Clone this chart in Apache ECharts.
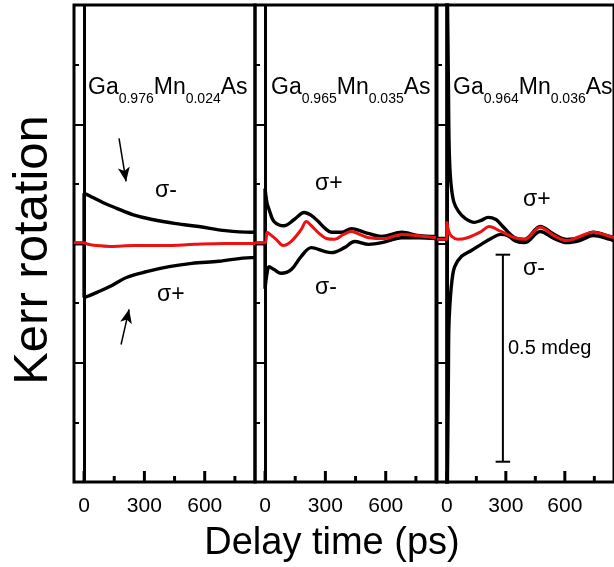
<!DOCTYPE html>
<html><head><meta charset="utf-8">
<script src="https://cdn.jsdelivr.net/npm/echarts@6/dist/echarts.min.js"></script>
<style>html,body{margin:0;padding:0;background:#fff}#c{width:614px;height:567px}</style>
</head><body><div id="c"></div>
<script>
// ---------- data (time in ps, Kerr rotation in mdeg) ----------
const xTickLabels = [0, 300, 600];
const xMinorTicks = [150, 450, 750];
const sampleFractions = [['0.976', '0.024'], ['0.965', '0.035'], ['0.964', '0.036']];

// Panel 1: Ga0.976Mn0.024As
const p1UpperT = [-50, 0, 0, 15, 44, 93, 162, 241, 339, 457, 571, 703, 831, 850];           // σ-
const p1UpperV = [0, 0, 0.121, 0.118, 0.111, 0.099, 0.085, 0.070, 0.058, 0.048, 0.041, 0.031, 0.027, 0.027];
const p1LowerT = [-50, 0, 0, 15, 64, 128, 211, 310, 423, 536, 669, 831, 850];               // σ+
const p1LowerV = [0, 0, -0.130, -0.128, -0.118, -0.104, -0.082, -0.068, -0.056, -0.048, -0.043, -0.034, -0.034];
const p1RedT = [-50, 0, 20, 60, 130, 250, 400, 550, 700, 850];
const p1RedV = [0.002, 0.002, -0.002, -0.005, -0.007, -0.005, -0.005, -0.002, 0, 0];

// Panel 2: Ga0.965Mn0.035As
const p2UpperT = [-50, 0, 0, 10, 20, 45, 95, 145, 195, 230, 265, 300, 330, 380, 430, 495, 580, 680, 765, 850];  // σ+
const p2UpperV = [0, 0, 0.133, 0.097, 0.082, 0.053, 0.043, 0.058, 0.075, 0.068, 0.053, 0.036, 0.027, 0.027, 0.036, 0.027, 0.017, 0.027, 0.019, 0.017];
const p2LowerT = [-50, 0, 0, 10, 20, 45, 80, 130, 180, 230, 295, 330, 395, 445, 515, 580, 680, 765, 850];       // σ-
const p2LowerV = [0, 0, -0.109, -0.072, -0.056, -0.063, -0.072, -0.063, -0.031, -0.010, -0.019, -0.022, -0.010, 0.005, -0.002, 0.002, 0.014, 0.014, 0.012];
const p2RedT = [-50, 0, 10, 25, 55, 90, 130, 180, 205, 230, 270, 305, 345, 390, 430, 470, 515, 595, 680, 795, 850];
const p2RedV = [0.002, 0.002, 0.027, 0.022, 0.010, -0.005, 0.005, 0.034, 0.053, 0.043, 0.024, 0.012, 0.010, 0.022, 0.029, 0.022, 0.014, 0.012, 0.022, 0.017, 0.014];

// Panel 3: Ga0.964Mn0.036As
const p3UpperT = [-50, 0, 0, 8, 12, 20, 35, 60, 95, 140, 175, 210, 250, 275, 345, 395, 475, 545, 610, 675, 745, 830, 850]; // σ+
const p3UpperV = [0.012, 0.012, 0.725, 0.386, 0.229, 0.150, 0.101, 0.077, 0.060, 0.051, 0.056, 0.063, 0.058, 0.046, 0.014, 0.010, 0.041, 0.022, 0.010, 0.014, 0.027, 0.017, 0.014];
const p3LowerT = [-50, 0, 0, 8, 10, 15, 25, 40, 75, 125, 175, 225, 275, 310, 345, 395, 475, 545, 610, 675, 745, 830, 850]; // σ-
const p3LowerV = [0.010, 0.010, -0.725, -0.314, -0.208, -0.152, -0.094, -0.056, -0.031, -0.017, -0.002, 0.012, 0.022, 0.019, 0.007, 0.002, 0.029, 0.012, 0.002, 0.007, 0.019, 0.010, 0.007];
const p3RedT = [-50, 0, 0, 10, 25, 55, 105, 175, 215, 275, 345, 395, 475, 545, 610, 675, 745, 830, 850];
const p3RedV = [0.010, 0.010, 0.053, 0.029, 0.017, 0.010, 0.014, 0.029, 0.041, 0.029, 0.014, 0.010, 0.039, 0.019, 0.007, 0.017, 0.027, 0.017, 0.014];

// scale bar in panel 3: [time, top, bottom, half cap width]
const scaleBar = [[285, -0.027, -0.527, 37]];
// arrows in panel 1: [tStart, vStart, tEnd, vEnd]
const arrows = [[174, 0.254, 209, 0.150], [184, -0.244, 224, -0.159]];

// ---------- chart ----------
const zip = (t, v) => t.map((x, i) => [x, v[i]]);
const FONT = 'Liberation Sans, Arial, sans-serif';
const Y_MIN = -0.576, Y_MAX = 0.576;
const chart = echarts.init(document.getElementById('c'), null, {renderer: 'canvas'});

const gridLefts = [74, 255, 437];
const grids = gridLefts.map(l => ({left: l, top: 5, width: 181, height: 477, show: true,
  borderColor: '#000', borderWidth: 3, backgroundColor: 'transparent', containLabel: false}));

const xAxes = [], yAxes = [];
gridLefts.forEach((l, i) => {
  xAxes.push({type: 'value', gridIndex: i, min: -50, max: 850, position: 'bottom',
    axisLine: {show: false, onZero: false}, splitLine: {show: false}, axisTick: {show: false},
    axisLabel: {show: true, customValues: xTickLabels, fontFamily: FONT, fontSize: 21, color: '#000',
      margin: 24, verticalAlign: 'middle'}});
  yAxes.push({type: 'value', gridIndex: i, min: Y_MIN, max: Y_MAX, interval: 0.288, position: 'left',
    axisLine: {show: false, onZero: false}, splitLine: {show: false}, axisLabel: {show: false},
    axisTick: {show: true, inside: true, length: 10, lineStyle: {color: '#000', width: 2}},
    minorTick: {show: true, splitNumber: 2, length: 5, lineStyle: {color: '#000', width: 2}},
    minorSplitLine: {show: false}});
});

const blackLine = (name, i, data, extra) => Object.assign({
  name, type: 'line', xAxisIndex: i, yAxisIndex: i, data, showSymbol: false, symbol: 'none',
  smooth: 0.35, lineStyle: {color: '#000', width: 3.4}, clip: true, silent: true, z: 3
}, extra || {});
const redLine = (i, data) => ({
  name: 'linear', type: 'line', xAxisIndex: i, yAxisIndex: i, data, showSymbol: false, symbol: 'none',
  smooth: 0.35, lineStyle: {color: '#ee1111', width: 3}, clip: true, silent: true, z: 5
});
const zeroLine = {silent: true, symbol: 'none', label: {show: false},
  lineStyle: {color: '#000', width: 3, type: 'solid'}, data: [{xAxis: 0}], animation: false};

// x-axis tick marks (major at labelled values, minor in between), placed through the axis scale
const tickSeries = i => ({type: 'custom', name: 'xticks', xAxisIndex: i, yAxisIndex: i, silent: true, clip: false, z: 20,
  encode: {x: 0, y: 1},
  data: [...xTickLabels, ...xMinorTicks].map(v => [v, Y_MIN]),
  renderItem: (params, api) => {
    const v = api.value(0);
    const p = api.coord([v, api.value(1)]);
    const len = xTickLabels.indexOf(v) >= 0 ? 11 : 6;
    return {type: 'rect', shape: {x: p[0] - 1.5, y: p[1] - len, width: 3, height: len}, style: {fill: '#000'}};
  }});

const series = [
  blackLine('σ-', 0, zip(p1UpperT, p1UpperV), {markLine: {silent: true, symbol: ['none', 'arrow'], symbolSize: [9, 14],
    label: {show: false}, lineStyle: {color: '#000', width: 1.5, type: 'solid'}, animation: false,
    data: arrows.map(a => [{coord: [a[0], a[1]]}, {coord: [a[2], a[3]]}])}}),
  blackLine('σ+', 0, zip(p1LowerT, p1LowerV), {markLine: zeroLine}),
  redLine(0, zip(p1RedT, p1RedV)),
  blackLine('σ+', 1, zip(p2UpperT, p2UpperV)),
  blackLine('σ-', 1, zip(p2LowerT, p2LowerV), {markLine: zeroLine}),
  redLine(1, zip(p2RedT, p2RedV)),
  blackLine('σ+', 2, zip(p3UpperT, p3UpperV)),
  blackLine('σ-', 2, zip(p3LowerT, p3LowerV), {markLine: zeroLine}),
  redLine(2, zip(p3RedT, p3RedV)),
  tickSeries(0), tickSeries(1), tickSeries(2),
  {type: 'custom', name: 'scale', xAxisIndex: 2, yAxisIndex: 2, data: scaleBar, silent: true, clip: false, z: 4,
    renderItem: (params, api) => {
      const x = api.value(0), y1 = api.value(1), y2 = api.value(2), hw = api.value(3);
      const t = api.coord([x, y1]), b = api.coord([x, y2]);
      const tl = api.coord([x - hw, y1]), tr = api.coord([x + hw, y1]);
      const bl = api.coord([x - hw, y2]), br = api.coord([x + hw, y2]);
      const st = {stroke: '#000', lineWidth: 2};
      return {type: 'group', children: [
        {type: 'line', shape: {x1: t[0], y1: t[1], x2: b[0], y2: b[1]}, style: st},
        {type: 'line', shape: {x1: tl[0], y1: tl[1], x2: tr[0], y2: tr[1]}, style: st},
        {type: 'line', shape: {x1: bl[0], y1: bl[1], x2: br[0], y2: br[1]}, style: st}
      ]};
    }}
];

const titleRich = {
  m: {fontFamily: FONT, fontSize: 23, lineHeight: 30, verticalAlign: 'top', fill: '#000', color: '#000'},
  s: {fontFamily: FONT, fontSize: 14, lineHeight: 14, padding: [16, 0, 0, 0], verticalAlign: 'top', fill: '#000', color: '#000'}
};
const titleX = [88, 271, 453];
const txt = (text, x, y, size, extra) => ({type: 'text', x, y, silent: true, z: 10,
  style: Object.assign({text, fontFamily: FONT, fontSize: size, fill: '#000', align: 'left', verticalAlign: 'middle'}, extra || {})});

const graphic = [
  {type: 'text', x: 33, y: 250, rotation: Math.PI / 2, silent: true,
    style: {text: 'Kerr rotation', fontFamily: FONT, fontSize: 49, fill: '#000', align: 'center', verticalAlign: 'middle'}},
  txt('Delay time (ps)', 332, 544, 38, {align: 'center'}),
  ...sampleFractions.map((f, i) => ({type: 'text', x: titleX[i], y: 76, silent: true, z: 10,
    style: {text: `{m|Ga}{s|${f[0]}}{m|Mn}{s|${f[1]}}{m|As}`, rich: titleRich, align: 'left', verticalAlign: 'top'}})),
  txt('σ-', 155, 191, 23),
  txt('σ+', 157, 295, 23),
  txt('σ+', 315, 184, 23),
  txt('σ-', 315, 288, 23),
  txt('σ+', 523, 200, 23),
  txt('σ-', 523, 269, 23),
  txt('0.5 mdeg', 508, 348, 20)
];

chart.setOption({
  animation: false,
  backgroundColor: '#fff',
  grid: grids,
  xAxis: xAxes,
  yAxis: yAxes,
  series,
  graphic
});
</script>
</body></html>
